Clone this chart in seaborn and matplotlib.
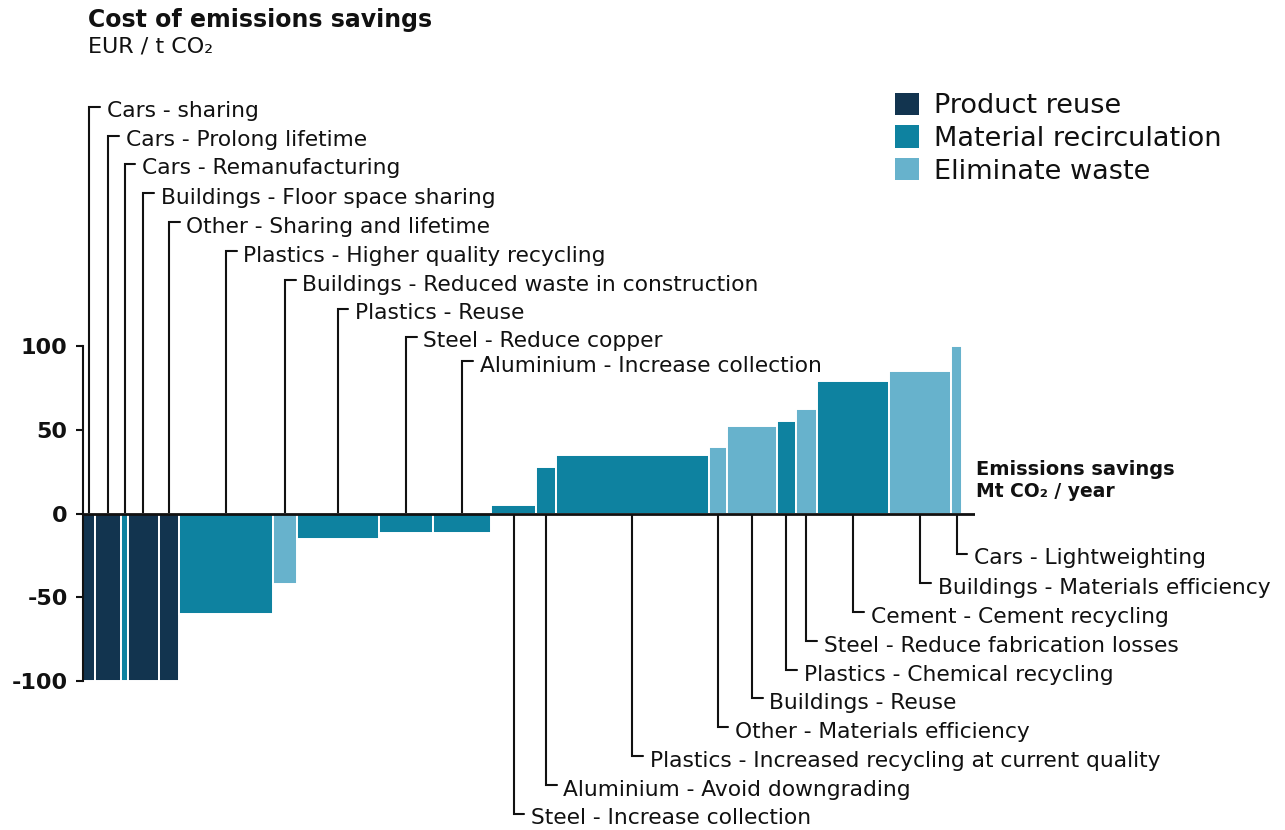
import numpy as np
import pandas as pd
import matplotlib
matplotlib.use("Agg")
import matplotlib.pyplot as plt
import seaborn as sns
from matplotlib.patches import Patch

# Marginal abatement cost curve for circular economy levers
labels = [
    "Cars - sharing", "Cars - Prolong lifetime", "Cars - Remanufacturing",
    "Buildings - Floor space sharing", "Other - Sharing and lifetime",
    "Plastics - Higher quality recycling", "Buildings - Reduced waste in construction",
    "Plastics - Reuse", "Steel - Reduce copper", "Aluminium - Increase collection",
    "Steel - Increase collection", "Aluminium - Avoid downgrading",
    "Plastics - Increased recycling at current quality", "Other - Materials efficiency",
    "Buildings - Reuse", "Plastics - Chemical recycling",
    "Steel - Reduce fabrication losses", "Cement - Cement recycling",
    "Buildings - Materials efficiency", "Cars - Lightweighting",
]
groups = [
    "Product reuse", "Product reuse", "Material recirculation", "Product reuse",
    "Product reuse", "Material recirculation", "Eliminate waste",
    "Material recirculation", "Material recirculation", "Material recirculation",
    "Material recirculation", "Material recirculation", "Material recirculation",
    "Eliminate waste", "Eliminate waste", "Material recirculation",
    "Eliminate waste", "Material recirculation", "Eliminate waste", "Eliminate waste",
]
# emissions savings, Mt CO2 / year (bar widths)
savings = [4.1, 8.6, 2.3, 10.2, 6.8, 31.3, 7.9, 27.4, 18.2, 19.3,
           14.8, 6.9, 50.7, 6.0, 16.8, 6.2, 7.3, 24.0, 20.5, 3.8]
# cost, EUR / t CO2 (bar heights)
costs = [-100, -100, -100, -100, -100, -60, -42, -15.5, -11.5, -11.5,
         5, 28, 35, 40, 52.5, 55.5, 62.5, 79, 85, 100]

legend_order = ["Product reuse", "Material recirculation", "Eliminate waste"]
palette = {"Product reuse": "#12344f",
           "Material recirculation": "#0e82a0",
           "Eliminate waste": "#67b2cc"}

df = pd.DataFrame({"label": labels, "group": groups, "width": savings, "cost": costs})
df["left"] = df["width"].cumsum() - df["width"]
df["mid"] = df["left"] + df["width"] / 2

sns.set_style("white")
plt.rcParams["font.family"] = ["DejaVu Sans"]
ink = "#111111"

fig = plt.figure(figsize=(12.85, 8.3), dpi=100)
W, H = 1285, 830
ax = fig.add_axes([83 / W, (H - 681) / H, 892 / W, 335 / H])

ax.bar(df["left"], df["cost"], width=df["width"], align="edge",
       color=df["group"].map(palette), edgecolor="white", linewidth=1.4, zorder=2)

ax.set_xlim(0, 892 / 3)
ax.set_ylim(-100, 100)
ax.axhline(0, color=ink, lw=2, zorder=3)

# leader lines and labels: above the axis for negative costs, below for positive
top_levels = [242.8, 225.5, 208.8, 191.4, 174.1, 156.8, 139.5, 122.2, 105.5, 91.1]
bottom_levels = [-24.0, -41.5, -58.8, -76.1, -93.4, -110.1, -127.5, -144.8, -162.1, -179.2][::-1]
neg = df[df["cost"] < 0]
pos = df[df["cost"] >= 0]
for (_, r), lvl in list(zip(neg.iterrows(), top_levels)) + list(zip(pos.iterrows(), bottom_levels)):
    ax.plot([r["mid"], r["mid"], r["mid"] + 3.6], [0, lvl, lvl],
            color=ink, lw=1.5, clip_on=False, zorder=1, solid_joinstyle="miter")
    ax.text(r["mid"] + 5.8, lvl - 1.6, r["label"], fontsize=15.7, va="center_baseline",
            ha="left", color=ink, clip_on=False)

ax.set_yticks([-100, -50, 0, 50, 100])
ax.set_yticklabels(["-100", "-50", "0", "50", "100"], fontsize=16, fontweight="bold",
                   color=ink)
ax.tick_params(axis="y", length=5, width=1.5, pad=6, left=True, color=ink)
ax.set_xticks([])
sns.despine(ax=ax, top=True, right=True, bottom=True)
ax.spines["left"].set_linewidth(1.5)
ax.spines["left"].set_color(ink)

fig.text(88 / W, 1 - 20 / H, "Cost of emissions savings", fontsize=17,
         fontweight="bold", va="center", ha="left", color=ink)
fig.text(88 / W, 1 - 47 / H, "EUR / t CO\u2082", fontsize=16, va="center", ha="left",
         color=ink)
fig.text(976 / W, 1 - 469 / H, "Emissions savings", fontsize=14,
         fontweight="bold", va="center", ha="left", color=ink)
fig.text(976 / W, 1 - 491 / H, "Mt CO\u2082 / year", fontsize=13.5,
         fontweight="bold", va="center", ha="left", color=ink)

handles = [Patch(facecolor=palette[g], edgecolor="none") for g in legend_order]
leg = fig.legend(handles, legend_order, loc="upper left",
                 bbox_to_anchor=(884 / W, 1 - 82 / H), frameon=False, fontsize=19.5,
                 handlelength=0.9, handleheight=0.9, handletextpad=0.55,
                 labelspacing=0.22, borderaxespad=0)
for t in leg.get_texts():
    t.set_color(ink)

fig.savefig("out.png", dpi=100)
